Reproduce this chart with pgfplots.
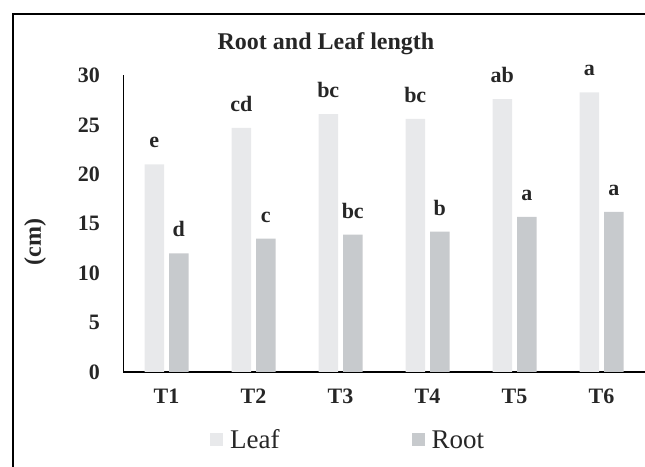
\documentclass[border=0pt]{standalone}
\usepackage{pgfplots}
\pgfplotsset{compat=1.18}
\usepackage{fontspec}
\setmainfont{Liberation Serif}
\definecolor{leafc}{HTML}{E8E9EB}
\definecolor{rootc}{HTML}{C7CACD}
\definecolor{txt}{HTML}{262626}
\pgfplotstableread{
x leaf l root r
0 21.0 e  12.0 d
1 24.7 cd 13.5 c
2 26.1 bc 13.9 bc
3 25.6 bc 14.2 b
4 27.6 ab 15.7 a
5 28.3 a  16.2 a
}\datatable
\begin{document}
\begin{tikzpicture}
\useasboundingbox (0,0) rectangle (645bp,467bp);
\draw[line width=2bp] (13bp,-20bp) -- (13bp,453bp) -- (700bp,453bp);
\node[font=\fontsize{24bp}{28bp}\selectfont\bfseries, text=txt] at (326bp,423bp) {Root and Leaf length};
\begin{axis}[
  at={(123bp,95bp)}, anchor=south west,
  scale only axis, width=522bp, height=296.5bp,
  xmin=-0.5, xmax=5.5, ymin=0, ymax=30,
  axis x line=bottom, axis y line=left,
  x axis line style={-, line width=1.5bp, black},
  y axis line style={-, line width=0.8bp, black},
  xtick={0,1,2,3,4,5}, xticklabels={T1,T2,T3,T4,T5,T6},
  ytick={0,5,10,15,20,25,30},
  major tick length=0pt,
  /pgf/number format/assume math mode=true,
  tick label style={font=\fontsize{22bp}{26bp}\selectfont\bfseries, text=txt, inner sep=0pt},
  yticklabel style={anchor=east, xshift=-23bp},
  xticklabel style={anchor=north, yshift=-17bp},
  ylabel={(cm)},
  ylabel style={at={(axis description cs:-0.1686,0.438)}, anchor=center, font=\fontsize{24bp}{28bp}\selectfont\bfseries, text=txt},
  ybar,
  bar width=19.5bp,
  legend image code/.code={\fill[#1,draw=none] (0bp,-6.5bp) rectangle (13bp,6.5bp);},
  legend columns=2,
  legend style={at={(0.1667,-0.2293)}, anchor=west, draw=none, fill=none, inner sep=0pt,
    font=\fontsize{27bp}{31bp}\selectfont, text=txt, nodes={inner sep=0pt},
    /tikz/every odd column/.append style={column sep=7bp},
    /tikz/every even column/.append style={column sep=132bp}},
  nodes near coords,
  point meta=explicit symbolic,
  nodes near coords style={anchor=base, yshift=16.5bp, font=\fontsize{22bp}{26bp}\selectfont\bfseries, text=txt, inner sep=0pt},
]
\addplot[fill=leafc, draw=none, bar shift=-12.25bp] table[x=x, y=leaf, meta=l] {\datatable};
\addlegendentry{Leaf}
\addplot[fill=rootc, draw=none, bar shift=12.25bp] table[x=x, y=root, meta=r] {\datatable};
\addlegendentry{Root}
\end{axis}
\end{tikzpicture}
\end{document}
